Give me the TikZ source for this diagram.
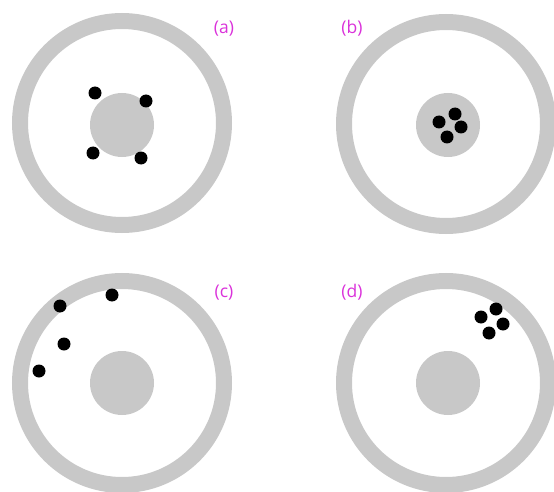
\documentclass[tikz,border=0pt]{standalone}
\usepackage{fontspec}
\setmainfont{Open Sans}
\definecolor{ringgray}{RGB}{200,200,200}
\definecolor{lblmag}{RGB}{218,50,218}
\tikzset{
  ring/.style={circle, draw=ringgray, line width=16pt, minimum size=204pt, inner sep=0pt},
  core/.style={circle, fill=ringgray, minimum size=64pt, inner sep=0pt},
  particle/.style={circle, fill=black, minimum size=13pt, inner sep=0pt},
  lbl/.style={text=lblmag, font=\fontsize{17.5}{20}\selectfont, inner sep=0pt}
}
\begin{document}
\begin{tikzpicture}[x=1pt,y=-1pt]
\useasboundingbox (0,0) rectangle (554,492);
% (a)
\node[ring] (ringA) at (122,123) {};
\node[core] (coreA) at (122,125) {};
\node[particle] (a1) at (95,93) {};
\node[particle] (a2) at (146,101) {};
\node[particle] (a3) at (93,153) {};
\node[particle] (a4) at (141,158) {};
\node[lbl] (la) at (224,29) {(a)};
% (b)
\node[ring] (ringB) at (446,124) {};
\node[core] (coreB) at (448,125) {};
\node[particle] (b1) at (439,122) {};
\node[particle] (b2) at (455,114) {};
\node[particle] (b3) at (461,127) {};
\node[particle] (b4) at (447,137) {};
\node[lbl] (lb) at (352,28) {(b)};
% (c)
\node[ring] (ringC) at (122,383) {};
\node[core] (coreC) at (122,383) {};
\node[particle] (c1) at (60,306) {};
\node[particle] (c2) at (112,295) {};
\node[particle] (c3) at (64,344) {};
\node[particle] (c4) at (39,371) {};
\node[lbl] (lc) at (224,293) {(c)};
% (d)
\node[ring] (ringD) at (446,383) {};
\node[core] (coreD) at (448,383) {};
\node[particle] (d1) at (481,317) {};
\node[particle] (d2) at (496,309) {};
\node[particle] (d3) at (503,324) {};
\node[particle] (d4) at (489,333) {};
\node[lbl] (ld) at (352,292) {(d)};
\end{tikzpicture}
\end{document}
